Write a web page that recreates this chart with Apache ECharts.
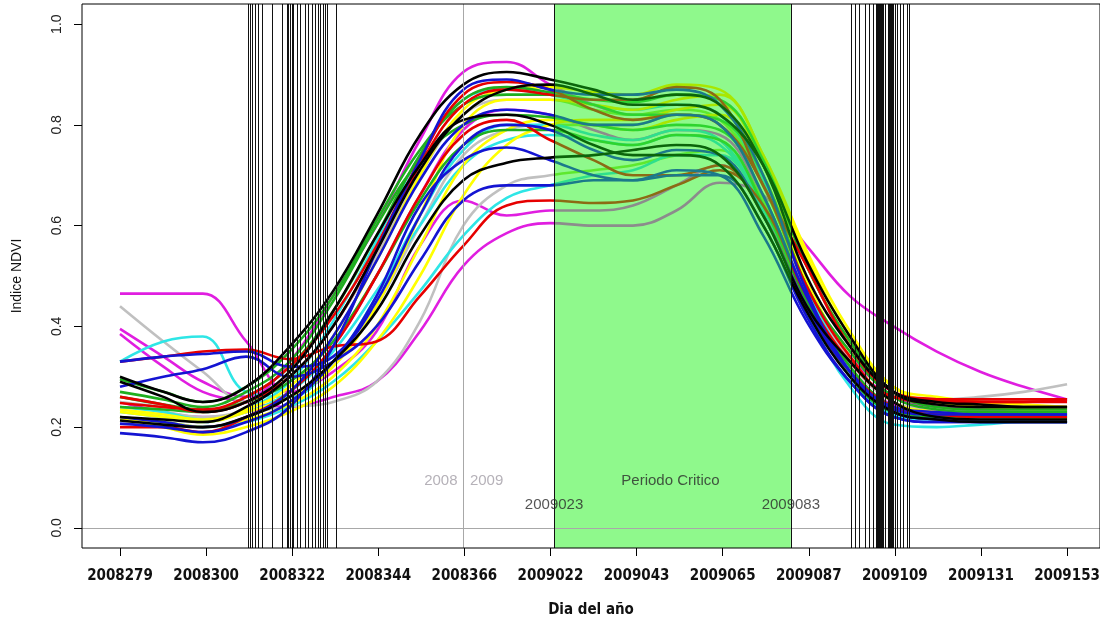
<!DOCTYPE html>
<html>
<head>
<meta charset="utf-8">
<title>Indice NDVI</title>
<script src="https://cdn.jsdelivr.net/npm/echarts@6.0.0/dist/echarts.min.js"></script>
<style>
  html, body { margin: 0; padding: 0; background: #fff; }
  #chart { width: 1100px; height: 622px; }
</style>
</head>
<body>
<div id="chart"></div>
<script>
// dias corridos desde 1/1/2008 (2009001 = 367)
const days = [279, 290, 300, 311, 322, 333, 344, 355, 366, 377, 388, 399, 409, 420, 431, 442, 453, 464, 475, 486, 497, 508, 519];

// etiquetas del eje x
const tickDays = [279, 300.82, 322.64, 344.45, 366.27, 388.09, 409.91, 431.73, 453.55, 475.36, 497.18, 519];
const tickLabels = ["2008279", "2008300", "2008322", "2008344", "2008366", "2009022", "2009043", "2009065", "2009087", "2009109", "2009131", "2009153"];
const yTicks = [0, 0.2, 0.4, 0.6, 0.8, 1.0];

// periodo critico (2009023 - 2009083)
const critStart = 389;
const critEnd = 449;
const yearChange = 366;

// fechas marcadas con lineas verticales
const datesA = [311.4, 311.9, 312.5, 313.2, 314.0, 315.0, 317.5, 320.1, 321.3, 321.7, 322.1, 322.6, 323.0, 323.9, 324.6, 325.9, 326.6, 327.7, 328.4, 329.2, 329.7, 330.4, 331.0, 331.5, 333.7];
const datesB = [464.2, 465.3, 466.3, 467.8, 468.8, 469.8, 470.7, 470.95, 471.2, 471.45, 471.7, 471.95, 472.2, 472.45, 473.0, 473.6, 473.85, 474.1, 474.35, 474.6, 474.85, 475.4, 475.9, 476.7, 477.4, 478.4, 479.1];

// curvas NDVI por lote
const mag1 = [0.395, 0.34, 0.29, 0.26, 0.33, 0.46, 0.60, 0.77, 0.905, 0.925, 0.88, 0.84, 0.82, 0.82, 0.80, 0.68, 0.48, 0.33, 0.26, 0.24, 0.235, 0.23, 0.23];
const mag2 = [0.465, 0.465, 0.465, 0.37, 0.27, 0.31, 0.39, 0.56, 0.65, 0.62, 0.63, 0.63, 0.64, 0.68, 0.72, 0.64, 0.48, 0.34, 0.27, 0.25, 0.245, 0.24, 0.24];
const mag3 = [0.385, 0.32, 0.27, 0.25, 0.24, 0.26, 0.29, 0.39, 0.52, 0.585, 0.605, 0.60, 0.60, 0.63, 0.685, 0.66, 0.56, 0.46, 0.40, 0.35, 0.31, 0.28, 0.255];
const mag4 = [0.25, 0.23, 0.22, 0.23, 0.27, 0.36, 0.50, 0.66, 0.79, 0.83, 0.82, 0.79, 0.77, 0.79, 0.78, 0.65, 0.45, 0.31, 0.245, 0.235, 0.235, 0.235, 0.235];
const blk1 = [0.30, 0.27, 0.25, 0.28, 0.36, 0.47, 0.62, 0.78, 0.88, 0.905, 0.89, 0.87, 0.85, 0.86, 0.84, 0.72, 0.50, 0.36, 0.27, 0.25, 0.245, 0.24, 0.24];
const blk2 = [0.213, 0.205, 0.20, 0.22, 0.26, 0.33, 0.43, 0.58, 0.69, 0.725, 0.735, 0.74, 0.75, 0.76, 0.74, 0.62, 0.44, 0.33, 0.25, 0.22, 0.215, 0.215, 0.215];
const blk3 = [0.29, 0.26, 0.23, 0.25, 0.31, 0.43, 0.58, 0.72, 0.81, 0.82, 0.80, 0.76, 0.74, 0.74, 0.72, 0.60, 0.43, 0.30, 0.23, 0.215, 0.21, 0.21, 0.21];
const blk4 = [0.22, 0.215, 0.21, 0.24, 0.30, 0.40, 0.55, 0.71, 0.82, 0.87, 0.88, 0.86, 0.84, 0.84, 0.82, 0.72, 0.53, 0.38, 0.27, 0.245, 0.24, 0.24, 0.24];
const red1 = [0.33, 0.34, 0.35, 0.354, 0.335, 0.36, 0.37, 0.46, 0.56, 0.64, 0.65, 0.645, 0.65, 0.68, 0.71, 0.64, 0.46, 0.33, 0.26, 0.25, 0.25, 0.25, 0.255];
const red2 = [0.248, 0.24, 0.235, 0.26, 0.32, 0.42, 0.56, 0.73, 0.86, 0.885, 0.87, 0.83, 0.81, 0.82, 0.80, 0.68, 0.48, 0.34, 0.26, 0.255, 0.255, 0.255, 0.255];
const red3 = [0.20, 0.20, 0.19, 0.22, 0.27, 0.36, 0.50, 0.66, 0.78, 0.81, 0.77, 0.73, 0.70, 0.70, 0.72, 0.62, 0.44, 0.31, 0.24, 0.225, 0.22, 0.22, 0.22];
const red4 = [0.26, 0.245, 0.23, 0.25, 0.30, 0.40, 0.55, 0.72, 0.84, 0.87, 0.86, 0.85, 0.85, 0.875, 0.85, 0.68, 0.52, 0.36, 0.27, 0.255, 0.25, 0.25, 0.25];
const grn1 = [0.295, 0.27, 0.25, 0.28, 0.35, 0.46, 0.61, 0.75, 0.84, 0.86, 0.86, 0.84, 0.82, 0.82, 0.81, 0.70, 0.48, 0.35, 0.26, 0.235, 0.23, 0.23, 0.23];
const grn2 = [0.26, 0.245, 0.235, 0.25, 0.29, 0.37, 0.50, 0.65, 0.76, 0.79, 0.79, 0.77, 0.76, 0.78, 0.77, 0.64, 0.45, 0.30, 0.23, 0.22, 0.22, 0.22, 0.22];
const grn3 = [0.24, 0.235, 0.23, 0.26, 0.32, 0.43, 0.58, 0.74, 0.85, 0.875, 0.865, 0.85, 0.845, 0.86, 0.85, 0.73, 0.52, 0.37, 0.27, 0.24, 0.235, 0.235, 0.235];
const grn4 = [0.27, 0.255, 0.24, 0.27, 0.33, 0.45, 0.60, 0.73, 0.80, 0.82, 0.815, 0.80, 0.79, 0.80, 0.79, 0.66, 0.46, 0.32, 0.24, 0.225, 0.225, 0.225, 0.225];
const blu1 = [0.33, 0.34, 0.345, 0.35, 0.32, 0.34, 0.45, 0.62, 0.76, 0.80, 0.79, 0.75, 0.73, 0.75, 0.74, 0.62, 0.44, 0.31, 0.24, 0.23, 0.225, 0.225, 0.225];
const blu2 = [0.28, 0.30, 0.315, 0.34, 0.30, 0.33, 0.40, 0.53, 0.65, 0.68, 0.68, 0.69, 0.69, 0.70, 0.70, 0.60, 0.42, 0.29, 0.22, 0.21, 0.21, 0.21, 0.21];
const blu3 = [0.207, 0.20, 0.19, 0.21, 0.25, 0.33, 0.46, 0.64, 0.73, 0.755, 0.73, 0.70, 0.69, 0.71, 0.70, 0.58, 0.41, 0.29, 0.22, 0.21, 0.21, 0.21, 0.21];
const blu4 = [0.188, 0.18, 0.17, 0.19, 0.24, 0.36, 0.55, 0.73, 0.87, 0.89, 0.87, 0.86, 0.86, 0.87, 0.84, 0.70, 0.47, 0.31, 0.23, 0.215, 0.21, 0.21, 0.21];
const blu5 = [0.22, 0.21, 0.20, 0.22, 0.27, 0.38, 0.53, 0.69, 0.80, 0.83, 0.82, 0.80, 0.80, 0.82, 0.80, 0.66, 0.46, 0.31, 0.235, 0.225, 0.225, 0.225, 0.225];
const cya1 = [0.33, 0.37, 0.38, 0.27, 0.26, 0.33, 0.46, 0.62, 0.75, 0.80, 0.80, 0.78, 0.77, 0.79, 0.77, 0.63, 0.43, 0.28, 0.205, 0.20, 0.205, 0.21, 0.21];
const cya2 = [0.23, 0.22, 0.21, 0.235, 0.29, 0.41, 0.57, 0.74, 0.85, 0.87, 0.86, 0.84, 0.83, 0.84, 0.82, 0.69, 0.48, 0.32, 0.24, 0.225, 0.22, 0.22, 0.22];
const cya3 = [0.24, 0.23, 0.215, 0.23, 0.27, 0.35, 0.47, 0.60, 0.72, 0.77, 0.78, 0.77, 0.76, 0.78, 0.76, 0.64, 0.44, 0.30, 0.225, 0.215, 0.215, 0.215, 0.215];
const cya4 = [0.215, 0.21, 0.20, 0.21, 0.24, 0.29, 0.37, 0.47, 0.58, 0.655, 0.68, 0.70, 0.71, 0.74, 0.74, 0.63, 0.45, 0.31, 0.235, 0.22, 0.22, 0.22, 0.22];
const yel1 = [0.23, 0.22, 0.21, 0.23, 0.26, 0.32, 0.44, 0.62, 0.80, 0.85, 0.85, 0.84, 0.83, 0.85, 0.86, 0.74, 0.55, 0.39, 0.28, 0.25, 0.245, 0.24, 0.24];
const yel2 = [0.22, 0.20, 0.185, 0.20, 0.23, 0.28, 0.37, 0.50, 0.66, 0.76, 0.80, 0.81, 0.81, 0.83, 0.84, 0.72, 0.52, 0.37, 0.27, 0.25, 0.24, 0.235, 0.235];
const yel3 = [0.235, 0.225, 0.215, 0.235, 0.28, 0.38, 0.53, 0.70, 0.83, 0.87, 0.875, 0.865, 0.86, 0.88, 0.87, 0.74, 0.54, 0.38, 0.28, 0.26, 0.25, 0.245, 0.24];
const yel4 = [0.215, 0.21, 0.20, 0.215, 0.245, 0.30, 0.40, 0.56, 0.72, 0.79, 0.81, 0.80, 0.79, 0.81, 0.82, 0.70, 0.49, 0.34, 0.25, 0.23, 0.225, 0.22, 0.215];
const gry1 = [0.44, 0.37, 0.31, 0.25, 0.26, 0.32, 0.44, 0.60, 0.74, 0.79, 0.80, 0.80, 0.80, 0.82, 0.81, 0.68, 0.47, 0.32, 0.24, 0.23, 0.23, 0.23, 0.23];
const gry2 = [0.24, 0.23, 0.22, 0.23, 0.24, 0.25, 0.29, 0.41, 0.60, 0.68, 0.70, 0.71, 0.72, 0.74, 0.75, 0.65, 0.47, 0.33, 0.26, 0.255, 0.26, 0.27, 0.285];
const gry3 = [0.25, 0.24, 0.23, 0.25, 0.30, 0.40, 0.54, 0.70, 0.82, 0.85, 0.85, 0.83, 0.82, 0.83, 0.81, 0.68, 0.48, 0.33, 0.25, 0.235, 0.23, 0.23, 0.23];

// texto de anotaciones (dia, valor)
const noteTexts = ["2008", "2009", "Periodo Critico", "2009023", "2009083"];
const noteDays = [360.3, 371.9, 418.5, 389, 449];
const noteValues = [0.094, 0.094, 0.094, 0.045, 0.045];

// colores: fuera del periodo critico / dentro
const palette = {
  mag: ["#e01ee0", "#8c8c8c"],
  blk: ["#000000", "#0b650b"],
  red: ["#e60000", "#8b6b14"],
  grn: ["#1fae1f", "#2ed42e"],
  blu: ["#1414d2", "#1b7a8a"],
  cya: ["#2ee6e6", "#2ee08c"],
  yel: ["#ffff00", "#a8e600"],
  gry: ["#c0c0c0", "#5ee82e"]
};

const curves = [
  ["mag", mag1], ["mag", mag2], ["mag", mag3], ["mag", mag4],
  ["gry", gry1], ["gry", gry2], ["gry", gry3],
  ["cya", cya1], ["cya", cya2], ["cya", cya3], ["cya", cya4],
  ["yel", yel1], ["yel", yel2], ["yel", yel3], ["yel", yel4],
  ["grn", grn1], ["grn", grn2], ["grn", grn3], ["grn", grn4],
  ["red", red1], ["red", red2], ["red", red3], ["red", red4],
  ["blu", blu1], ["blu", blu2], ["blu", blu3], ["blu", blu4], ["blu", blu5],
  ["blk", blk1], ["blk", blk2], ["blk", blk3], ["blk", blk4]
];

const chart = echarts.init(document.getElementById("chart"));

const curveSeries = curves.map(([key, values], i) => ({
  name: key + i,
  type: "line",
  z: 3,
  smooth: 0.4,
  showSymbol: false,
  silent: true,
  lineStyle: { width: 2.6 },
  data: days.map((d, j) => [d, values[j]])
}));

// color distinto dentro del periodo critico
const visualMaps = curves.map(([key], i) => ({
  type: "piecewise",
  show: false,
  seriesIndex: i,
  dimension: 0,
  pieces: [
    { lt: critStart, color: palette[key][0] },
    { gte: critStart, lte: critEnd, color: palette[key][1] },
    { gt: critEnd, color: palette[key][0] }
  ]
}));

const thinLine = (color) => ({ type: "solid", width: 1, color: color });
const narrowFont = "'DejaVu Sans Condensed', 'Liberation Sans Narrow', 'Liberation Sans', Arial";

const option = {
  backgroundColor: "#fff",
  animation: false,
  grid: {
    left: 82, right: 0, top: 4, bottom: 74,
    outerBoundsMode: "none",
    containLabel: false,
    show: true, borderColor: "#000", borderWidth: 1, backgroundColor: "transparent", z: 10
  },
  visualMap: visualMaps,
  xAxis: {
    type: "value",
    min: 269.37,
    max: 527.35,
    name: "Dia del año",
    nameLocation: "middle",
    nameGap: 55,
    nameTextStyle: { color: "#111", fontSize: 15, fontWeight: "bold", fontFamily: narrowFont },
    axisLine: { show: false, onZero: false },
    splitLine: { show: false },
    axisTick: { show: true, length: 8, customValues: tickDays, lineStyle: { color: "#000" } },
    axisLabel: {
      customValues: tickDays,
      margin: 21,
      color: "#111",
      fontSize: 15,
      fontWeight: "bold",
      fontFamily: narrowFont,
      formatter: v => tickLabels[tickDays.indexOf(v)] || ""
    }
  },
  yAxis: {
    type: "value",
    min: -0.04,
    max: 1.04,
    name: "Indice NDVI",
    nameLocation: "middle",
    nameGap: 58,
    nameTextStyle: { color: "#111", fontSize: 14, fontFamily: "Liberation Sans, Arial" },
    axisLine: { show: false, onZero: false },
    splitLine: { show: false },
    axisTick: { show: true, length: 8, customValues: yTicks, lineStyle: { color: "#000" } },
    axisLabel: {
      customValues: yTicks,
      rotate: 90,
      margin: 18,
      color: "#222",
      fontSize: 14,
      fontFamily: "Liberation Sans, Arial",
      formatter: v => v.toFixed(1)
    }
  },
  series: [
    ...curveSeries,
    {
      // fondo: periodo critico, cambio de año y linea del cero
      name: "fondo",
      type: "line",
      z: 1,
      data: [],
      markArea: {
        silent: true,
        itemStyle: { color: "#8ff98c" },
        data: [[{ xAxis: critStart }, { xAxis: critEnd }]]
      },
      markLine: {
        silent: true,
        symbol: ["none", "none"],
        label: { show: false },
        lineStyle: thinLine("#a8a8a8"),
        data: [{ xAxis: yearChange }, { yAxis: 0 }]
      }
    },
    {
      // fechas marcadas y bordes del periodo critico
      name: "fechas",
      type: "line",
      z: 5,
      data: [],
      markLine: {
        silent: true,
        symbol: ["none", "none"],
        label: { show: false },
        lineStyle: thinLine("#111"),
        data: datesA.concat(datesB, [critStart, critEnd]).map(d => ({ xAxis: d }))
      }
    },
    {
      name: "notas",
      type: "scatter",
      z: 6,
      symbolSize: 0,
      silent: true,
      label: {
        show: true,
        position: "inside",
        fontSize: 15,
        fontFamily: "Liberation Sans, Arial",
        formatter: p => p.name
      },
      data: noteTexts.map((t, i) => ({
        name: t,
        value: [noteDays[i], noteValues[i]],
        label: { color: i < 2 ? "#a39ea6" : "#2a2a2a" }
      }))
    }
  ]
};

chart.setOption(option);
</script>
</body>
</html>
